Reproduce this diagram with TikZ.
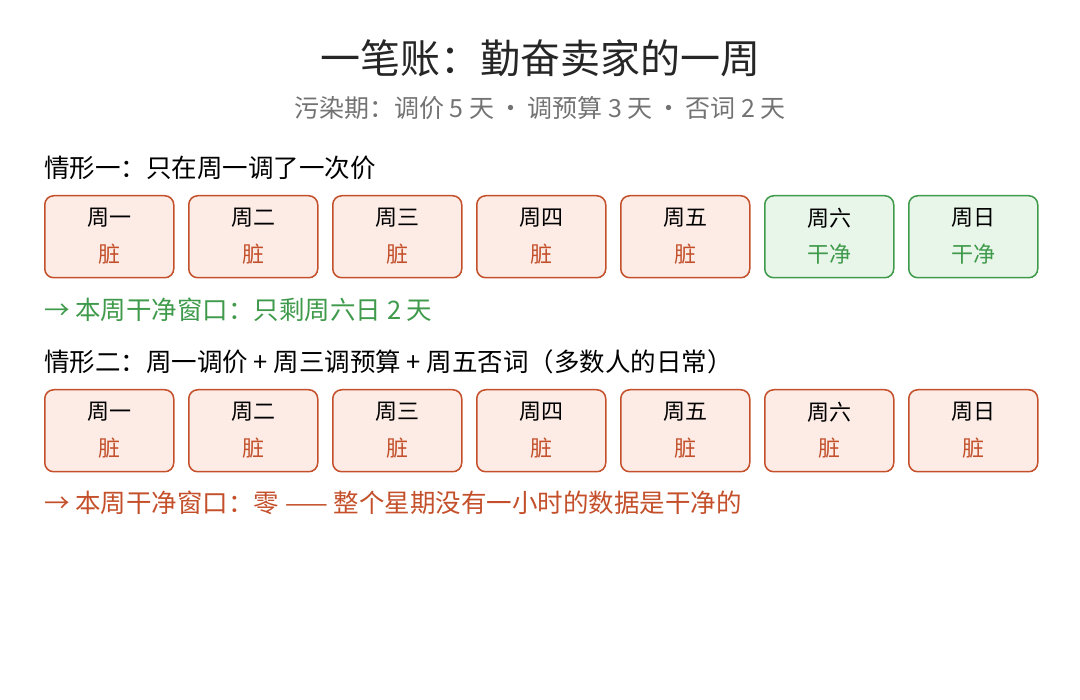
\documentclass[tikz,border=0pt]{standalone}
\usepackage{fontspec}
\setmainfont{Noto Sans CJK SC}
\usepackage{tikz}
\definecolor{dirtyline}{HTML}{C4502B}
\definecolor{dirtyfill}{HTML}{FDECE6}
\definecolor{cleanline}{HTML}{3F9A4B}
\definecolor{cleanfill}{HTML}{E8F5E9}
\tikzset{
  day/.style={draw=#1line, fill=#1fill, line width=1.5pt, rounded corners=9pt,
    minimum width=129pt, minimum height=82pt, anchor=north west, inner sep=0pt},
  txt/.style={font=\fontsize{25.5}{30}\selectfont, anchor=west, inner sep=0pt}
}
\begin{document}
\begin{tikzpicture}[x=1pt, y=-1pt]
  \useasboundingbox (0,0) rectangle (1080,700);
  % Kopf.
  \node (title) at (540,58) {\fontsize{40}{46}\selectfont\color{black!85}一笔账：勤奋卖家的一周};
  \node (sub) at (540,108) {\fontsize{25}{30}\selectfont\color{black!55}污染期：调价 5 天\,·\,调预算 3 天\,·\,否词 2 天};
  % Erste Zeile.
  \node[txt] (caseA) at (44,168) {情形一：只在周一调了一次价};
  \foreach \d/\s [count=\i from 0] in {周一/dirty,周二/dirty,周三/dirty,周四/dirty,周五/dirty,周六/clean,周日/clean}
  {
    \node[day=\s] (a\i) at (44+144*\i,195) {};
    \node[font=\fontsize{22}{26}\selectfont] at ([yshift=-23pt]a\i.north) {\d};
    \ifnum\i<5
      \node[font=\fontsize{22}{26}\selectfont, text=dirtyline] at ([yshift=-59pt]a\i.north) {脏};
    \else
      \node[font=\fontsize{22}{26}\selectfont, text=cleanline] at ([yshift=-59pt]a\i.north) {干净};
    \fi
  }
  \node[txt, text=cleanline] (noteA) at (44,310) {→ 本周干净窗口：只剩周六日 2 天};
  % Zweite Zeile.
  \node[txt] (caseB) at (44,362) {情形二：周一调价 + 周三调预算 + 周五否词（多数人的日常）};
  \foreach \d [count=\i from 0] in {周一,周二,周三,周四,周五,周六,周日}
  {
    \node[day=dirty] (b\i) at (44+144*\i,389) {};
    \node[font=\fontsize{22}{26}\selectfont] at ([yshift=-23pt]b\i.north) {\d};
    \node[font=\fontsize{22}{26}\selectfont, text=dirtyline] at ([yshift=-59pt]b\i.north) {脏};
  }
  \node[txt, text=dirtyline] (noteB) at (44,503) {→ 本周干净窗口：零 —— 整个星期没有一小时的数据是干净的};
\end{tikzpicture}
\end{document}
